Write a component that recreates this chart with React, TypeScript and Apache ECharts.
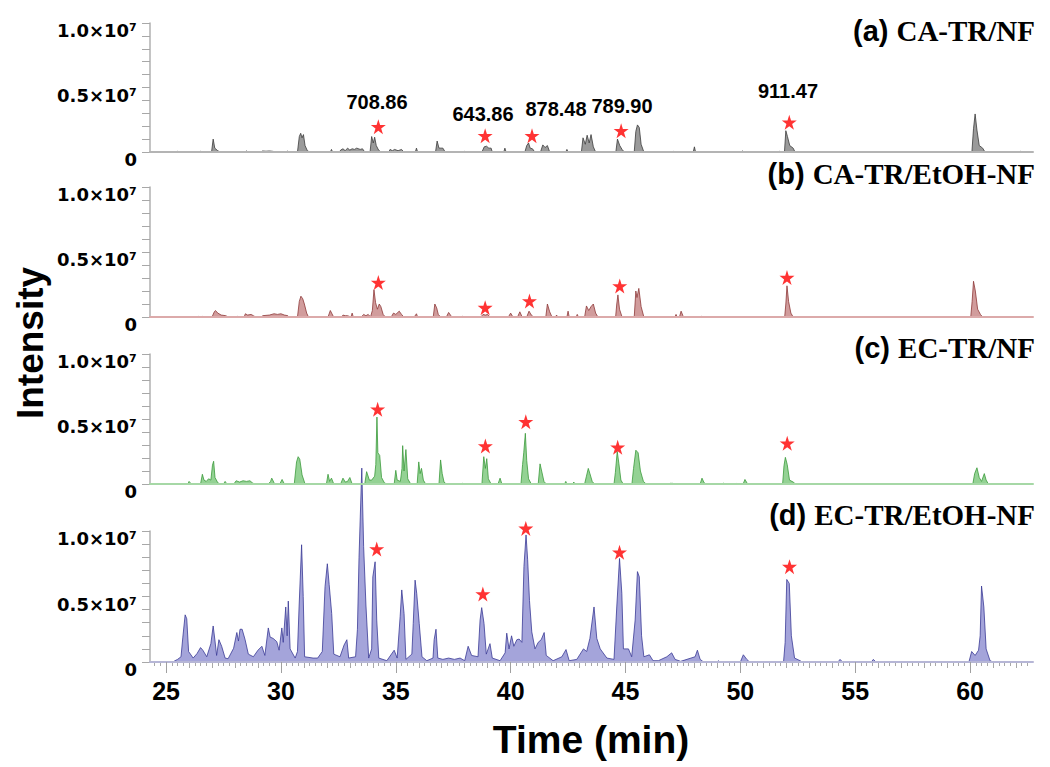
import React, { useEffect, useRef } from 'react';
import * as echarts from 'echarts';

// ---------- axis / text data ----------
const X_MIN = 24.3;
const X_MAX = 62.74;
const xTickValues = [25, 30, 35, 40, 45, 50, 55, 60];
const yTickValues = [0, 5, 10];
const yTickLabels = ['0', '0.5×10⁷', '1.0×10⁷'];
const panelTags = ['(a)', '(b)', '(c)', '(d)'];
const panelTitles = ['CA-TR/NF', 'CA-TR/EtOH-NF', 'EC-TR/NF', 'EC-TR/EtOH-NF'];
const peakMassLabels = ['708.86', '643.86', '878.48', '789.90', '911.47'];
const xTitle = 'Time (min)';
const yTitle = 'Intensity';

// ---------- chromatogram data: [time (min), intensity (x10^6)] ----------
const chromA: [number, number][] = [
  [24.3, 0], [25.45, 0], [25.5, 0.05], [25.55, 0], [26.45, 0], [26.5, 0.05], [26.55, 0],
  [26.98, 0], [27.05, 1.0], [27.12, 0.3], [27.25, 0.1], [27.35, 0],
  [28.45, 0], [28.5, 0.08], [28.55, 0],
  [29.15, 0], [29.2, 0.08], [29.35, 0.06], [29.5, 0.08], [29.65, 0.05], [29.8, 0],
  [30.25, 0], [30.3, 0.08], [30.35, 0],
  [30.72, 0], [30.8, 1.2], [30.86, 1.45], [30.92, 1.1], [30.98, 1.35], [31.05, 0.5], [31.15, 0.1], [31.25, 0],
  [32.15, 0], [32.2, 0.2], [32.25, 0],
  [32.55, 0], [32.6, 0.15], [32.7, 0.25], [32.8, 0.1], [32.9, 0.3], [33.0, 0.15], [33.1, 0.25], [33.2, 0.2], [33.3, 0.3], [33.45, 0.2], [33.55, 0.25], [33.65, 0],
  [33.88, 0], [33.95, 1.2], [34.02, 0.7], [34.08, 1.15], [34.15, 0.5], [34.25, 0.15], [34.35, 0],
  [34.7, 0], [34.75, 0.2], [34.85, 0.1], [34.95, 0.2], [35.1, 0.1], [35.25, 0.2], [35.35, 0],
  [35.85, 0], [35.9, 0.3], [35.95, 0],
  [36.73, 0], [36.8, 0.85], [36.88, 0.3], [37.05, 0.3], [37.15, 0],
  [37.95, 0], [38.0, 0.05], [38.05, 0],
  [38.75, 0], [38.85, 0.4], [38.95, 0.45], [39.05, 0.3], [39.15, 0.3], [39.2, 0],
  [39.7, 0], [39.75, 0.3], [39.8, 0],
  [40.62, 0], [40.7, 0.5], [40.78, 0.7], [40.85, 0.3], [40.95, 0.25], [41.05, 0],
  [41.3, 0], [41.4, 0.55], [41.5, 0.35], [41.6, 0.5], [41.7, 0],
  [42.4, 0], [42.45, 0.2], [42.5, 0],
  [43.08, 0], [43.15, 1.1], [43.25, 0.6], [43.33, 1.3], [43.42, 0.7], [43.5, 1.35], [43.6, 0.4], [43.7, 0],
  [44.58, 0], [44.65, 1.0], [44.75, 0.5], [44.85, 0.2], [44.95, 0],
  [45.38, 0], [45.45, 1.6], [45.52, 2.1], [45.6, 1.9], [45.68, 0.6], [45.8, 0],
  [47.05, 0], [47.1, 0.05], [47.15, 0],
  [47.95, 0], [48.0, 0.4], [48.05, 0],
  [50.05, 0], [50.1, 0.08], [50.15, 0],
  [51.65, 0], [51.7, 0.05], [51.75, 0],
  [51.92, 0], [51.98, 1.65], [52.05, 1.2], [52.15, 0.5], [52.3, 0.3], [52.38, 0],
  [60.08, 0], [60.15, 1.8], [60.22, 2.95], [60.3, 1.7], [60.4, 0.5], [60.55, 0.3], [60.65, 0],
  [62.15, 0], [62.2, 0.05], [62.25, 0], [62.74, 0],
];

const chromB: [number, number][] = [
  [24.3, 0], [26.35, 0], [26.4, 0.05], [26.45, 0], [26.55, 0], [26.6, 0.05], [26.65, 0],
  [27.0, 0], [27.1, 0.4], [27.15, 0.5], [27.25, 0.3], [27.4, 0.15], [27.6, 0.1], [27.7, 0],
  [28.05, 0], [28.1, 0.05], [28.15, 0],
  [28.4, 0], [28.45, 0.25], [28.55, 0.15], [28.7, 0.2], [28.8, 0.1], [28.9, 0],
  [29.15, 0], [29.2, 0.1], [29.5, 0.15], [29.7, 0.25], [29.85, 0.2], [30.0, 0.25], [30.15, 0.15], [30.3, 0.1], [30.35, 0],
  [30.72, 0], [30.8, 1.2], [30.87, 1.6], [30.95, 1.4], [31.02, 1.0], [31.12, 0.3], [31.2, 0],
  [32.05, 0], [32.15, 0.5], [32.25, 0.15], [32.3, 0],
  [32.65, 0], [32.7, 0.15], [32.8, 0.1], [32.9, 0.1], [33.05, 0], [33.1, 0.3], [33.15, 0],
  [33.5, 0], [33.6, 0.2], [33.7, 0.1], [33.8, 0.2], [33.9, 0],
  [33.98, 0.5], [34.05, 2.1], [34.12, 1.1], [34.2, 0.6], [34.28, 1.0], [34.35, 0.8], [34.45, 0.2], [34.55, 0],
  [34.8, 0], [34.9, 0.3], [35.0, 0.2], [35.15, 0.45], [35.25, 0.2], [35.35, 0],
  [35.8, 0], [35.9, 0.25], [35.95, 0],
  [36.63, 0], [36.7, 1.0], [36.78, 0.7], [36.85, 0.2], [36.95, 0],
  [37.2, 0], [37.3, 0.35], [37.4, 0.1], [37.45, 0],
  [37.85, 0], [37.9, 0.05], [37.95, 0],
  [38.7, 0], [38.8, 0.2], [38.9, 0.15], [39.0, 0.2], [39.1, 0],
  [39.9, 0], [40.0, 0.3], [40.1, 0], [40.3, 0], [40.4, 0.4], [40.5, 0], [40.7, 0], [40.8, 0.45], [40.9, 0.15], [41.0, 0],
  [41.53, 0], [41.6, 1.0], [41.7, 0.4], [41.8, 0],
  [41.95, 0], [42.0, 0.15], [42.05, 0],
  [42.45, 0], [42.5, 0.45], [42.55, 0], [42.85, 0], [42.9, 0.2], [42.95, 0],
  [43.22, 0], [43.3, 0.85], [43.4, 0.5], [43.5, 0.8], [43.6, 1.0], [43.7, 0.3], [43.8, 0],
  [44.57, 0], [44.62, 1.0], [44.67, 1.7], [44.74, 0.6], [44.85, 0],
  [45.38, 0], [45.45, 2.0], [45.5, 1.5], [45.58, 2.2], [45.68, 0.8], [45.8, 0],
  [47.15, 0], [47.2, 0.2], [47.25, 0], [47.35, 0], [47.42, 0.45], [47.5, 0.1], [47.55, 0],
  [48.25, 0], [48.3, 0.05], [48.35, 0],
  [51.93, 0], [51.98, 1.0], [52.03, 2.4], [52.1, 1.2], [52.2, 0.3], [52.3, 0],
  [60.03, 0], [60.09, 1.2], [60.15, 2.75], [60.23, 2.0], [60.33, 0.6], [60.45, 0.2], [60.55, 0], [62.74, 0],
];

const chromC: [number, number][] = [
  [24.3, 0], [25.95, 0], [26.0, 0.2], [26.1, 0],
  [26.5, 0], [26.58, 0.75], [26.65, 0.3], [26.75, 0.2], [26.85, 0.4], [26.95, 0.3], [27.02, 1.45], [27.07, 1.75], [27.13, 0.5], [27.25, 0.1], [27.35, 0],
  [27.5, 0], [27.57, 0.2], [27.65, 0],
  [27.95, 0], [28.05, 0.25], [28.2, 0.15], [28.35, 0.25], [28.5, 0.2], [28.65, 0.25], [28.75, 0.1], [28.85, 0],
  [29.45, 0], [29.55, 0.2], [29.6, 0.45], [29.7, 0.1], [29.75, 0],
  [29.95, 0], [30.05, 0.35], [30.15, 0],
  [30.58, 0], [30.68, 1.7], [30.75, 2.1], [30.82, 1.9], [30.92, 0.7], [31.05, 0],
  [31.98, 0], [32.05, 0.75], [32.12, 0.2], [32.2, 0.45], [32.3, 0],
  [32.6, 0], [32.7, 0.45], [32.8, 0.15], [32.9, 0.2], [33.0, 0.5], [33.1, 0],
  [33.65, 0], [33.73, 0.95], [33.85, 0.3], [33.95, 0.3], [34.08, 0.6],
  [34.13, 1.5], [34.18, 5.15], [34.22, 2.4], [34.3, 2.2], [34.38, 0.5], [34.5, 0.1], [34.6, 0],
  [34.93, 0], [35.0, 1.05], [35.06, 0.3], [35.2, 0.2], [35.27, 1.2], [35.3, 2.95], [35.36, 1.0], [35.44, 2.65], [35.52, 0.4], [35.65, 0],
  [35.93, 0], [36.0, 1.7], [36.06, 0.8], [36.12, 1.2], [36.2, 0.3], [36.3, 0],
  [36.88, 0], [36.95, 1.85], [37.02, 0.8], [37.1, 0.15], [37.2, 0],
  [37.85, 0], [37.9, 0.05], [37.95, 0],
  [38.75, 0], [38.83, 2.1], [38.9, 1.2], [38.96, 1.95], [39.03, 0.4], [39.15, 0],
  [39.45, 0], [39.54, 0.45], [39.62, 0],
  [40.45, 0], [40.52, 1.5], [40.57, 2.4], [40.64, 3.9], [40.7, 1.8], [40.78, 0.4], [40.9, 0],
  [41.2, 0], [41.28, 1.55], [41.35, 1.0], [41.45, 0.2], [41.55, 0],
  [42.35, 0], [42.4, 0.2], [42.45, 0], [42.7, 0], [42.75, 0.15], [42.8, 0],
  [43.22, 0], [43.3, 0.6], [43.38, 1.2], [43.45, 0.8], [43.55, 0.2], [43.65, 0],
  [44.5, 0], [44.56, 0.9], [44.64, 2.5], [44.71, 1.6], [44.8, 0.3], [44.9, 0],
  [45.28, 0], [45.35, 1.2], [45.45, 2.6], [45.55, 2.4], [45.65, 1.0], [45.78, 0.2], [45.9, 0],
  [46.9, 0], [46.95, 0.05], [47.05, 0.05], [47.15, 0],
  [48.25, 0], [48.33, 0.45], [48.42, 0.1], [48.5, 0],
  [49.2, 0], [49.25, 0.08], [49.3, 0],
  [49.8, 0], [49.85, 0.05], [49.9, 0],
  [50.12, 0], [50.2, 0.35], [50.3, 0.05], [50.35, 0],
  [51.84, 0], [51.9, 1.4], [51.96, 2.05], [52.04, 1.5], [52.14, 0.3], [52.3, 0.15], [52.4, 0],
  [60.12, 0], [60.2, 0.8], [60.3, 1.25], [60.4, 0.5], [60.5, 0.2], [60.62, 0.8], [60.7, 0.3], [60.8, 0], [62.74, 0],
];

const chromD: [number, number][] = [
  [24.3, 0], [25.3, 0], [25.39, 0.1], [25.5, 0.2], [25.65, 0.4], [25.73, 1.9], [25.83, 3.6], [25.9, 3.3],
  [25.98, 0.8], [26.18, 0.3], [26.35, 0.65], [26.5, 1.1], [26.6, 0.9], [26.77, 0.4], [26.95, 1.4], [27.05, 2.75],
  [27.13, 1.6], [27.2, 0.5], [27.3, 1.7], [27.42, 1.2], [27.57, 0.3], [27.7, 0.25], [27.94, 1.05], [28.08, 2.25],
  [28.15, 1.6], [28.22, 2.5], [28.31, 2.5], [28.44, 1.7], [28.58, 0.6], [28.8, 0.4], [29.0, 0.9], [29.17, 1.2], [29.3, 0.5],
  [29.45, 2.6], [29.53, 1.9], [29.66, 1.8], [29.82, 1.55], [29.92, 0.9], [30.04, 2.6], [30.1, 1.5], [30.21, 4.2],
  [30.27, 2.0], [30.32, 4.65], [30.4, 1.0], [30.62, 0.3], [30.72, 0.8], [30.79, 4.2], [30.9, 8.95], [30.97, 5.0], [31.03, 0.4], [31.4, 0.3],
  [31.6, 0.3], [31.8, 0.8], [31.92, 5.75], [32.02, 7.5], [32.1, 5.9], [32.21, 3.7], [32.3, 0.6], [32.57, 0.4], [32.75, 1.3],
  [32.87, 1.7], [32.95, 0.3], [33.25, 0.4], [33.33, 2.5], [33.4, 8.0], [33.52, 14.8], [33.6, 8.8], [33.7, 4.35], [33.82, 0.3],
  [33.95, 1.0], [34.0, 6.5], [34.1, 7.65], [34.17, 3.2], [34.26, 0.3], [34.61, 0.1], [34.93, 0.9], [35.06, 0.3], [35.19, 3.45],
  [35.26, 5.5], [35.36, 3.7], [35.44, 0.2], [35.7, 0.6], [35.76, 2.95], [35.84, 6.25], [35.91, 5.25], [36.02, 2.95], [36.14, 0.4],
  [36.35, 0.1], [36.62, 0.3], [36.67, 1.7], [36.75, 2.5], [36.83, 0.3], [37.05, 0.2], [37.3, 0.3], [37.55, 0.2], [37.8, 0.3],
  [38.0, 0.1], [38.15, 1.2], [38.3, 0.5], [38.58, 0.4], [38.67, 3.2], [38.74, 4.15], [38.84, 2.95], [38.94, 0.6],
  [39.1, 1.4], [39.2, 0.3], [39.54, 0.1], [39.76, 0.7], [39.83, 2.2], [39.93, 1.0], [40.04, 2.0], [40.14, 1.2],
  [40.27, 1.7], [40.37, 1.75], [40.49, 1.5], [40.58, 7.3], [40.67, 9.7], [40.74, 7.8], [40.82, 4.7], [40.92, 2.3],
  [41.06, 1.0], [41.2, 1.5], [41.33, 1.7], [41.46, 2.25], [41.55, 0.5], [41.85, 0.1], [42.23, 0.4], [42.41, 0.95],
  [42.55, 0.1], [42.88, 0.2], [43.17, 1.0], [43.31, 0.8], [43.45, 1.8], [43.63, 4.2], [43.75, 1.8], [43.9, 1.0],
  [44.19, 0.3], [44.5, 0.2], [44.62, 4.2], [44.74, 7.9], [44.84, 5.25], [44.91, 1.0], [45.13, 1.0], [45.27, 0.4],
  [45.42, 3.2], [45.52, 6.9], [45.6, 6.5], [45.7, 2.0], [45.8, 0.4], [46.04, 0.55], [46.2, 0.1], [46.43, 0.1],
  [46.8, 0.4], [47.01, 0.7], [47.16, 0.2], [47.4, 0.05], [48.03, 0.4], [48.13, 0.9], [48.25, 0.2], [48.4, 0],
  [49.0, 0], [49.04, 0.1], [49.1, 0], [50.0, 0], [50.13, 0.55], [50.28, 0.2], [50.4, 0], [51.88, 0],
  [51.95, 1.5], [52.02, 6.3], [52.13, 6.0], [52.22, 2.0], [52.36, 0.3], [52.6, 0.1], [52.7, 0], [54.25, 0],
  [54.34, 0.2], [54.45, 0], [55.7, 0], [55.79, 0.2], [55.9, 0], [59.95, 0], [60.07, 0.8], [60.22, 0.5],
  [60.37, 0.9], [60.44, 2.0], [60.5, 5.8], [60.6, 4.2], [60.7, 1.0], [60.87, 0.1], [61.0, 0], [62.74, 0],
];

// star markers (marked compounds) per panel: [time, intensity x10^6]
const starsA: [number, number][] = [[34.24, 1.96], [38.89, 1.26], [40.93, 1.26], [44.81, 1.65], [52.13, 2.3]];
const starsB: [number, number][] = [[34.24, 2.65], [38.89, 0.72], [40.82, 1.23], [44.75, 2.38], [52.03, 3.03]];
const starsC: [number, number][] = [[34.21, 5.75], [38.9, 2.92], [40.66, 4.79], [44.66, 2.82], [52.04, 3.13]];
const starsD: [number, number][] = [[34.17, 8.63], [38.79, 5.19], [40.66, 10.2], [44.74, 8.37], [52.14, 7.28]];

const chromData = [chromA, chromB, chromC, chromD];
const starData = [starsA, starsB, starsC, starsD];

// ---------- layout & style ----------
const GRID_LEFT = 150;
const GRID_RIGHT = 17;
const gridTops = [23, 187, 354, 531];
const gridHeights = [129, 130, 130, 131];
const lineColors = ['#3c3c3c', '#8e3838', '#3b9a3b', '#3a3a96'];
const fillColors = ['#9a9a9a', '#d19c9c', '#94d294', '#a4a4da'];
const baseColors = ['#b4b4b4', '#dcaaaa', '#a6d8a6', '#b6b6d6'];
const tagY = [31, 174, 348, 515];
const massLabelPos: [number, number][] = [[377, 102], [483, 114], [556, 109], [622, 106], [788, 91]];

const SANS = '"Liberation Sans", Arial, Helvetica, sans-serif';
const SERIF = '"Liberation Serif", "Times New Roman", serif';
const STAR = 'path://M50,0 L61.2,34.5 L97.6,34.5 L68.2,55.9 L79.4,90.5 L50,69.1 L20.6,90.5 L31.8,55.9 L2.4,34.5 L38.8,34.5 Z';

const quarterTicks: number[] = [];
for (let v = 24.5; v <= 62.5 + 1e-9; v += 0.25) quarterTicks.push(Math.round(v * 100) / 100);
const minuteTicks: number[] = [];
for (let v = 25; v <= 62; v += 1) minuteTicks.push(v);

function buildOption() {
  const grids = gridTops.map((top, i) => ({ left: GRID_LEFT, right: GRID_RIGHT, top, height: gridHeights[i] }));

  const xAxes: any[] = gridTops.map((_, i) => ({
    type: 'value',
    gridIndex: i,
    position: 'bottom',
    min: X_MIN,
    max: X_MAX,
    z: 3,
    axisLine: { show: true, onZero: false, lineStyle: { color: baseColors[i], width: 2 } },
    axisTick: i === 3
      ? { show: true, customValues: xTickValues, length: 11, lineStyle: { color: '#a0a0a0', width: 1 } }
      : { show: false },
    axisLabel: i === 3
      ? {
          show: true,
          customValues: xTickValues,
          margin: 16,
          color: '#000',
          fontFamily: SANS,
          fontWeight: 'bold',
          fontSize: 25,
          formatter: (v: number) => String(v),
        }
      : { show: false },
    splitLine: { show: false },
  }));
  // extra axes for the fine tick marks on the bottom panel
  xAxes.push({
    type: 'value', gridIndex: 3, position: 'bottom', min: X_MIN, max: X_MAX,
    axisLine: { show: false, onZero: false },
    axisTick: { show: true, customValues: quarterTicks, length: 4, lineStyle: { color: '#a8a8a8', width: 1 } },
    axisLabel: { show: false }, splitLine: { show: false },
  });
  xAxes.push({
    type: 'value', gridIndex: 3, position: 'bottom', min: X_MIN, max: X_MAX,
    axisLine: { show: false, onZero: false },
    axisTick: { show: true, customValues: minuteTicks, length: 6, lineStyle: { color: '#a8a8a8', width: 1 } },
    axisLabel: { show: false }, splitLine: { show: false },
  });

  const yAxes = gridTops.map((_, i) => ({
    type: 'value',
    gridIndex: i,
    min: 0,
    max: 10,
    interval: 5,
    axisLine: { show: true, lineStyle: { color: '#b0b0b0', width: 1.5 } },
    axisTick: { show: true, length: 8, lineStyle: { color: '#a8a8a8', width: 1 } },
    minorTick: { show: true, splitNumber: 5, length: 8, lineStyle: { color: '#a8a8a8', width: 1 } },
    axisLabel: {
      show: true,
      margin: 13,
      verticalAlign: 'top',
      lineHeight: 15,
      color: '#000',
      fontFamily: '"DejaVu Sans", sans-serif',
      fontWeight: 'bold',
      fontSize: 18,
      formatter: (v: number) => {
        const k = yTickValues.indexOf(v);
        return k >= 0 ? yTickLabels[k] : '';
      },
    },
    splitLine: { show: false },
    minorSplitLine: { show: false },
  }));

  const series: any[] = [];
  chromData.forEach((d, i) => {
    series.push({
      type: 'line',
      xAxisIndex: i,
      yAxisIndex: i,
      data: d,
      showSymbol: false,
      symbol: 'none',
      clip: false,
      silent: true,
      z: 2,
      lineStyle: { color: lineColors[i], width: 0.8 },
      areaStyle: { color: fillColors[i], opacity: 1 },
    });
  });
  starData.forEach((d, i) => {
    series.push({
      type: 'scatter',
      xAxisIndex: i,
      yAxisIndex: i,
      data: d,
      symbol: STAR,
      symbolSize: 15,
      clip: false,
      silent: true,
      z: 6,
      itemStyle: { color: '#ff0000' },
    });
  });

  const graphic: any[] = [
    {
      type: 'text', x: 30, y: 343, rotation: Math.PI / 2, z: 10,
      style: {
        text: yTitle, font: `bold 37px ${SANS}`, fill: '#000',
        align: 'center', verticalAlign: 'middle', textAlign: 'center', textVerticalAlign: 'middle',
      },
    },
    {
      type: 'text', x: 591, y: 739, z: 10,
      style: {
        text: xTitle, font: `bold 39px ${SANS}`, fill: '#000',
        align: 'center', verticalAlign: 'middle', textAlign: 'center', textVerticalAlign: 'middle',
      },
    },
  ];
  panelTags.forEach((tag, i) => {
    graphic.push({
      type: 'text', x: 1035, y: tagY[i], z: 10,
      style: {
        text: `{p|${tag} }{t|${panelTitles[i]}}`,
        align: 'right', verticalAlign: 'middle', textAlign: 'right', textVerticalAlign: 'middle',
        fill: '#000',
        rich: {
          p: { fontFamily: SANS, fontWeight: 'bold', fontSize: 29, fill: '#000', color: '#000' },
          t: { fontFamily: SERIF, fontWeight: 'bold', fontSize: 29, fill: '#000', color: '#000' },
        },
      },
    });
  });
  peakMassLabels.forEach((txt, i) => {
    graphic.push({
      type: 'text', x: massLabelPos[i][0], y: massLabelPos[i][1], z: 10,
      style: {
        text: txt, font: `bold 20px ${SANS}`, fill: '#000',
        align: 'center', verticalAlign: 'middle', textAlign: 'center', textVerticalAlign: 'middle',
      },
    });
  });

  return {
    animation: false,
    backgroundColor: '#ffffff',
    grid: grids,
    xAxis: xAxes,
    yAxis: yAxes,
    series,
    graphic,
  };
}

export default function App() {
  const ref = useRef<HTMLDivElement>(null);
  useEffect(() => {
    if (!ref.current) return;
    const chart = echarts.init(ref.current, undefined, { renderer: 'svg' });
    chart.setOption(buildOption() as any);
    return () => chart.dispose();
  }, []);
  return (
    <div
      ref={ref}
      style={{ position: 'absolute', left: 0, top: 0, width: 1050, height: 767, background: '#fff' }}
    />
  );
}
